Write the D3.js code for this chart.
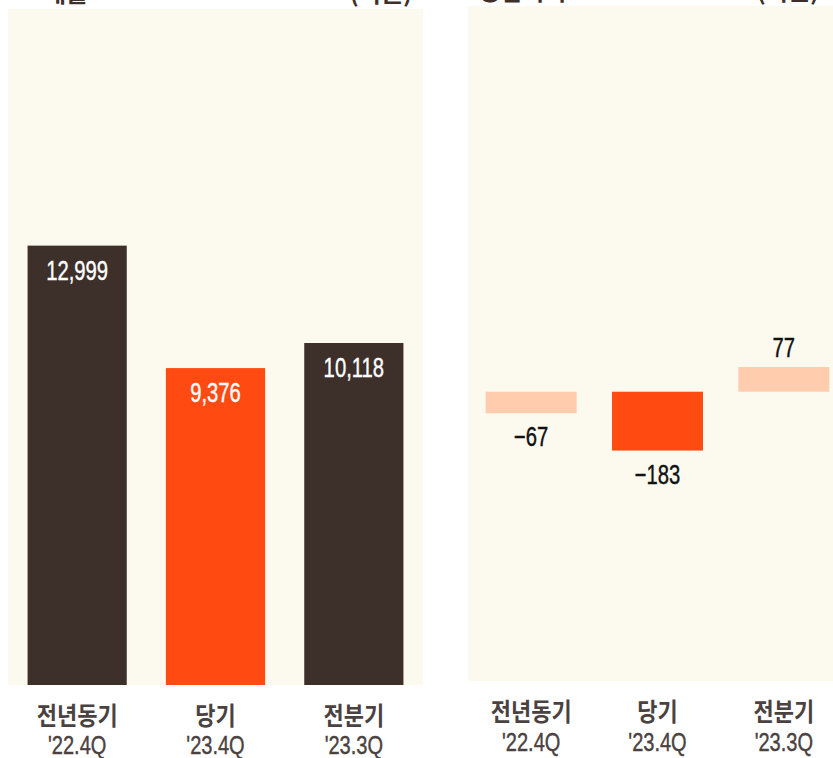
<!DOCTYPE html>
<html>
<head>
<meta charset="utf-8">
<script src="https://cdn.jsdelivr.net/npm/d3@7"></script>
<style>
  body { margin: 0; background: #fff; }
  svg { display: block; }
  .num { font-family: "Liberation Sans", Arial, sans-serif; stroke-width: 0.4px; }
  .kr { font-family: "Noto Sans CJK KR", sans-serif; font-weight: 700; }
</style>
</head>
<body>
<svg width="833" height="758"></svg>
<script>
// categories and values
const categories = ['전년동기', '당기', '전분기'];
const periods = ["'22.4Q", "'23.4Q", "'23.3Q"];
const sales = [12999, 9376, 10118];
const profitChange = [-67, -183, 77];

const bg = '#fcf9ee';
const dark = '#3d302b';
const orange = '#ff4a12';
const peach = '#ffccae';
const labelColor = '#4a4240';

const svg = d3.select('svg');
const fmt = d3.format(',');

// text helper with horizontal condensing
function label(g, x, y, txt, cls, size, fill, sx) {
  g.append('text')
    .attr('class', cls)
    .attr('transform', `translate(${x},${y}) scale(${sx},1)`)
    .attr('text-anchor', 'middle')
    .attr('font-size', size)
    .attr('fill', fill)
    .attr('stroke', cls === 'num' ? fill : null)
    .text(txt);
}

// titles (mostly above the visible area, as in the source)
svg.append('text').attr('class', 'kr').attr('x', 44).attr('y', 2)
  .attr('font-size', 24).attr('fill', dark).text('매출');
svg.append('text').attr('class', 'kr').attr('x', 412).attr('y', 2)
  .attr('text-anchor', 'end').attr('font-size', 24).attr('fill', dark).text('(억원)');
svg.append('text').attr('class', 'kr').attr('x', 478).attr('y', 0)
  .attr('font-size', 24).attr('fill', dark).text('영업이익');
svg.append('text').attr('class', 'kr').attr('x', 819).attr('y', 0)
  .attr('text-anchor', 'end').attr('font-size', 24).attr('fill', dark).text('(억원)');

// ---- left panel: sales
const left = svg.append('g');
left.append('rect').attr('x', 8).attr('y', 9).attr('width', 415).attr('height', 676).attr('fill', bg);

const x1 = d3.scaleBand().domain(categories).range([8, 423]).paddingInner(0.283).paddingOuter(0.1415);
const y1 = d3.scaleLinear().domain([0, 20000]).range([685, 9]);
const salesColors = [dark, orange, dark];

left.selectAll('.bar')
  .data(sales)
  .join('rect')
  .attr('class', 'bar')
  .attr('x', (d, i) => x1(categories[i]))
  .attr('y', d => y1(d))
  .attr('width', x1.bandwidth())
  .attr('height', d => y1(0) - y1(d))
  .attr('fill', (d, i) => salesColors[i]);

sales.forEach((d, i) => {
  const cx = x1(categories[i]) + x1.bandwidth() / 2;
  label(left, cx, y1(d) + 34, fmt(d), 'num', 27, '#fff', 0.75);
  label(left, cx, 725, categories[i], 'kr', 25, labelColor, 0.88);
  label(left, cx, 754, periods[i], 'num', 26, labelColor, 0.77);
});

// ---- right panel: operating profit change
const right = svg.append('g');
right.append('rect').attr('x', 468).attr('y', 6).attr('width', 379).attr('height', 675).attr('fill', bg);

const x2 = d3.scaleBand().domain(categories).range([468, 847]).paddingInner(0.28).paddingOuter(0.14);
const y2 = d3.scaleLinear().domain([-900, 1200]).range([681, 6]);
const profitColors = [peach, orange, peach];

right.selectAll('.bar')
  .data(profitChange)
  .join('rect')
  .attr('class', 'bar')
  .attr('x', (d, i) => x2(categories[i]))
  .attr('y', d => y2(Math.max(0, d)))
  .attr('width', x2.bandwidth())
  .attr('height', d => Math.abs(y2(d) - y2(0)))
  .attr('fill', (d, i) => profitColors[i]);

profitChange.forEach((d, i) => {
  const cx = x2(categories[i]) + x2.bandwidth() / 2;
  const ty = d < 0 ? y2(d) + 33 : y2(d) - 10;
  label(right, cx, ty, fmt(d), 'num', 27, '#111', 0.75);
  label(right, cx, 721, categories[i], 'kr', 25, labelColor, 0.88);
  label(right, cx, 751, periods[i], 'num', 26, labelColor, 0.77);
});
</script>
</body>
</html>
